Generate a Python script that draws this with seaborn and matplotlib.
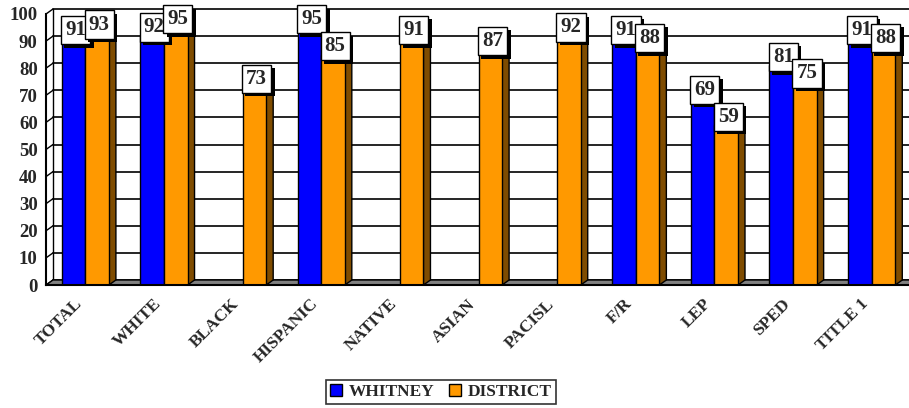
import numpy as np
import pandas as pd
import matplotlib
matplotlib.use('Agg')
import matplotlib.pyplot as plt
import matplotlib.patheffects as pe
from matplotlib.patches import Polygon
from matplotlib.transforms import ScaledTranslation
import seaborn as sns

# chart data
categories = ['TOTAL', 'WHITE', 'BLACK', 'HISPANIC', 'NATIVE', 'ASIAN',
              'PACISL', 'F/R', 'LEP', 'SPED', 'TITLE 1']
whitney = [91, 92, np.nan, 95, np.nan, np.nan, np.nan, 91, 69, 81, 91]
district = [93, 95, 73, 85, 91, 87, 92, 88, 59, 75, 88]
series = ['WHITNEY', 'DISTRICT']
colors = ['#0000FF', '#FF9900']
y_ticks = list(range(0, 101, 10))

df = pd.DataFrame({
    'group': categories * 2,
    'school': [series[0]] * len(categories) + [series[1]] * len(categories),
    'score': whitney + district,
})

sns.set_style('white')
plt.rcParams['font.family'] = ['Liberation Serif', 'DejaVu Serif']
plt.rcParams['font.weight'] = 'bold'

fig = plt.figure(figsize=(9.09, 4.08), dpi=100)
ax = fig.add_axes([46 / 909, 1 - 285 / 408, 865 / 909, 271 / 408])

sns.barplot(data=df, x='group', y='score', hue='school', order=categories,
            hue_order=series, palette=colors, width=0.6, edgecolor='black',
            linewidth=1, saturation=1, ax=ax, zorder=3)

ax.set_xlim(-0.5, len(categories) - 0.5)
ax.set_ylim(0, 100)

# depth of the fake 3D look, in data units
dx = 7 / (865 / len(categories))
dy = 5 / 2.71
x0, x1 = ax.get_xlim()

# floor and back wall
ax.add_patch(Polygon([(x0, 0), (x1, 0), (x1 + dx, dy), (x0 + dx, dy)],
                     closed=True, fc='#808080', ec='black', lw=1, zorder=1))
for y in y_ticks:
    ax.plot([x0 + dx, x1 + dx], [y + dy, y + dy], color='black', lw=1.2,
            zorder=0.5, clip_on=False)
    ax.plot([x0, x0 + dx], [y, y + dy], color='black', lw=1, zorder=0.5,
            clip_on=False)
ax.plot([x0 + dx, x0 + dx], [dy, 100 + dy], color='black', lw=1, zorder=0.5,
        clip_on=False)

# side and top faces of the bars
side_colors = ['#00007A', '#7F4C00']
top_colors = ['#0000B0', '#CC7A00']
for cont, sc, tc in zip(ax.containers, side_colors, top_colors):
    for p in cont.patches:
        h = p.get_height()
        if np.isnan(h):
            continue
        left = p.get_x()
        right = left + p.get_width()
        ax.add_patch(Polygon([(right, 0), (right + dx, dy), (right + dx, h + dy), (right, h)],
                             closed=True, fc=sc, ec='black', lw=1, zorder=2.5))
        ax.add_patch(Polygon([(left, h), (right, h), (right + dx, h + dy), (left + dx, h + dy)],
                             closed=True, fc=tc, ec='black', lw=1, zorder=2.6,
                             clip_on=False))

# value labels in boxes with shadows
for cont in ax.containers:
    for p in cont.patches:
        h = p.get_height()
        if np.isnan(h):
            continue
        t = ax.annotate(f'{int(h)}', xy=(p.get_x() + p.get_width() / 2, h),
                        xytext=(1.5, 6), textcoords='offset points',
                        ha='center', va='center', fontsize=15,
                        fontweight='bold', zorder=10, annotation_clip=False,
                        bbox=dict(boxstyle='square,pad=0.2', fc='white',
                                  ec='black', lw=1))
        t.get_bbox_patch().set_path_effects([
            pe.withSimplePatchShadow(offset=(2.5, -2.5), shadow_rgbFace='black', alpha=1.0)
        ])

# axes styling
for s in ['top', 'right']:
    ax.spines[s].set_visible(False)
for s in ['left', 'bottom']:
    ax.spines[s].set_color('black')
    ax.spines[s].set_linewidth(1.5)
    ax.spines[s].set_zorder(4)

ax.set_yticks(y_ticks)
ax.set_yticklabels([str(v) for v in y_ticks], fontsize=13.5, fontweight='bold')
ax.tick_params(axis='y', direction='out', length=4, width=1.2, color='black', pad=2)

ax.set_xticks(np.arange(-0.5, len(categories), 1), minor=True)
ax.set_xticks(range(len(categories)))
ax.set_xticklabels(categories, rotation=45, ha='right', va='center',
                   rotation_mode='anchor', fontsize=12.5, fontweight='bold')
ax.tick_params(axis='x', which='major', length=0, pad=12)
ax.tick_params(axis='x', which='minor', direction='out', length=5, width=1.2, color='black')
for lbl in ax.get_xticklabels():
    lbl.set_transform(lbl.get_transform() + ScaledTranslation(-4 / 72, 0, fig.dpi_scale_trans))

ax.set_xlabel('')
ax.set_ylabel('')

sns.move_legend(ax, 'center', bbox_to_anchor=(441 / 909, 1 - 392 / 408),
                bbox_transform=fig.transFigure, ncol=2, title=None,
                frameon=True, fancybox=False, edgecolor='black',
                prop={'weight': 'bold', 'size': 12.5}, handlelength=0.7,
                handleheight=0.7, handletextpad=0.4, columnspacing=0.8,
                borderpad=0.25)
leg = ax.get_legend()
leg.get_frame().set_linewidth(1.2)
for h in leg.legend_handles:
    h.set_edgecolor('black')

fig.savefig('out.png', dpi=100)
